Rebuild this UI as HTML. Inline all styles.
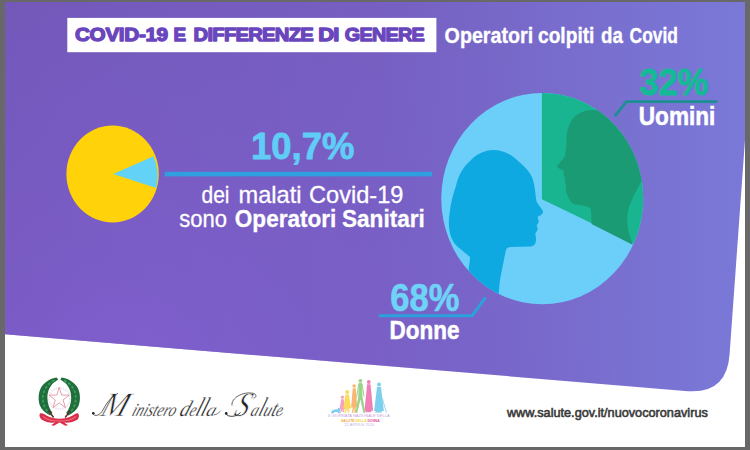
<!DOCTYPE html>
<html><head><meta charset="utf-8">
<style>
html,body{margin:0;padding:0;background:#686868;}
body{width:750px;height:450px;overflow:hidden;font-family:"Liberation Sans",sans-serif;}
svg{display:block;position:absolute;left:0;top:0;}
text{font-family:"Liberation Sans",sans-serif;}
.ser{font-family:"Liberation Serif",serif;font-style:italic;}
</style></head><body>
<svg width="750" height="450" viewBox="0 0 750 450">
<defs>
<linearGradient id="bg" x1="0" y1="0" x2="1" y2="0">
<stop offset="0" stop-color="#7256b5"/>
<stop offset="0.5" stop-color="#765fc0"/>
<stop offset="1" stop-color="#7a79d8"/>
</linearGradient>
<radialGradient id="bg2" gradientUnits="userSpaceOnUse" cx="120" cy="400" r="520">
<stop offset="0" stop-color="#8461d6" stop-opacity="0.75"/>
<stop offset="0.45" stop-color="#8060d2" stop-opacity="0.4"/>
<stop offset="1" stop-color="#7a60d0" stop-opacity="0"/>
</radialGradient>
<clipPath id="bigc"><ellipse cx="542.25" cy="198.65" rx="101" ry="105.65"/></clipPath>
</defs>
<rect x="0" y="0" width="750" height="450" fill="#686868"/>
<rect x="5" y="2" width="740" height="445" fill="#ffffff"/>
<path d="M5,2 L745,2 L745,140 L729.6,354 Q727.0,393.8 688,391.2 L5,334.2 Z" fill="url(#bg)"/>
<path d="M5,2 L745,2 L745,140 L729.6,354 Q727.0,393.8 688,391.2 L5,334.2 Z" fill="url(#bg2)"/>
<rect x="67.3" y="17.9" width="369.1" height="34.3" fill="#ffffff"/>
<text x="75.0" y="41.2" font-size="18.7" font-weight="bold" fill="#6a46bd" textLength="92.8" lengthAdjust="spacingAndGlyphs" stroke="#6a46bd" stroke-width="1.3" stroke-linejoin="round" letter-spacing="-0.3">COVID-19</text>
<text x="173.6" y="41.2" font-size="18.7" font-weight="bold" fill="#6a46bd" textLength="11.9" lengthAdjust="spacingAndGlyphs" stroke="#6a46bd" stroke-width="1.3" stroke-linejoin="round" letter-spacing="-0.7">E</text>
<text x="193.6" y="41.2" font-size="18.7" font-weight="bold" fill="#6a46bd" textLength="119.4" lengthAdjust="spacingAndGlyphs" stroke="#6a46bd" stroke-width="1.3" stroke-linejoin="round" letter-spacing="-0.7">DIFFERENZE</text>
<text x="318.2" y="41.2" font-size="18.7" font-weight="bold" fill="#6a46bd" textLength="20.4" lengthAdjust="spacingAndGlyphs" stroke="#6a46bd" stroke-width="1.3" stroke-linejoin="round" letter-spacing="-0.7">DI</text>
<text x="344.8" y="41.2" font-size="18.7" font-weight="bold" fill="#6a46bd" textLength="79.2" lengthAdjust="spacingAndGlyphs" stroke="#6a46bd" stroke-width="1.3" stroke-linejoin="round" letter-spacing="-0.7">GENERE</text>
<text x="444.6" y="43.1" font-size="22.2" font-weight="bold" fill="#ffffff" textLength="88.6" lengthAdjust="spacingAndGlyphs" stroke="#ffffff" stroke-width="0.35">Operatori</text>
<text x="538.0" y="43.1" font-size="22.2" font-weight="bold" fill="#ffffff" textLength="56.4" lengthAdjust="spacingAndGlyphs" stroke="#ffffff" stroke-width="0.35">colpiti</text>
<text x="601.0" y="43.1" font-size="22.2" font-weight="bold" fill="#ffffff" textLength="21.8" lengthAdjust="spacingAndGlyphs" stroke="#ffffff" stroke-width="0.35">da</text>
<text x="629.6" y="43.1" font-size="22.2" font-weight="bold" fill="#ffffff" textLength="48.4" lengthAdjust="spacingAndGlyphs" stroke="#ffffff" stroke-width="0.35">Covid</text>
<ellipse cx="112.6" cy="174" rx="46.2" ry="48.5" fill="#ffd20a"/>
<path d="M113.2,174 L153.6,156.2 A46.2,48.5 0 0 1 156.2,188 Z" fill="#62d2f6"/>
<rect x="164.7" y="171.8" width="267.5" height="4.6" fill="#2f9fe0"/>
<text x="251.0" y="159.2" font-size="36.5" font-weight="bold" fill="#5fcdf6" textLength="103.4" lengthAdjust="spacingAndGlyphs" stroke="#5fcdf6" stroke-width="0.8" stroke-linejoin="round">10,7%</text>
<text x="201.5" y="203.0" font-size="24.0" font-weight="normal" fill="#ffffff" textLength="28.0" lengthAdjust="spacingAndGlyphs" stroke="#ffffff" stroke-width="0.3">dei</text>
<text x="238.5" y="203.0" font-size="24.0" font-weight="normal" fill="#ffffff" textLength="63.0" lengthAdjust="spacingAndGlyphs" stroke="#ffffff" stroke-width="0.3">malati</text>
<text x="309.0" y="203.0" font-size="24.0" font-weight="normal" fill="#ffffff" textLength="94.4" lengthAdjust="spacingAndGlyphs" stroke="#ffffff" stroke-width="0.3">Covid-19</text>
<text x="179.2" y="227.3" font-size="24.2" font-weight="normal" fill="#ffffff" textLength="47.8" lengthAdjust="spacingAndGlyphs" stroke="#ffffff" stroke-width="0.3">sono</text>
<text x="234.8" y="227.3" font-size="23.6" font-weight="bold" fill="#ffffff" textLength="101.6" lengthAdjust="spacingAndGlyphs" stroke="#ffffff" stroke-width="0.3">Operatori</text>
<text x="342.0" y="227.3" font-size="23.6" font-weight="bold" fill="#ffffff" textLength="82.8" lengthAdjust="spacingAndGlyphs" stroke="#ffffff" stroke-width="0.3">Sanitari</text>
<ellipse cx="542.25" cy="198.65" rx="101" ry="105.65" fill="#6ccff9"/>
<g clip-path="url(#bigc)">
<path d="M541.9,80 L660,80 L660,256.1 L541.9,199.2 Z" fill="#19b590"/>
<path d="M590,110 C582,111 575,115 572,120 C568,126 566,133 566.5,140 C566.5,147 565.5,152 565.2,156 L557.2,166 C557,168 560,169 564,170.5 C563,173 564,176 565.2,178 C564.5,181 565.5,184 566,186 C565.5,190 566.5,194 568,196.5 C569.8,201 572,203.5 575.5,204.5 C581,205.5 587,205.5 590.5,208 C591.2,212 591.4,218 591.6,224 L633,245 C629,236 626.5,226 627.5,215 C628.5,205 634,195 641,182 L650,170 L645,140 L628,125 C620,115 605,109 590,110 Z" fill="#1a9b73"/>
<path d="M493.3,150 C502,150 510,153.5 516.4,159.6 C525,167 531,173 533,180 C535,187 535.5,194 536,198.7 L536.7,202 L543,211 C543.3,213.5 541,215.5 537.8,216.4 C537.5,218 538,219.5 538.8,221 C538.5,223 537.5,224.5 536.7,225.3 C537,226.5 537.5,228 537.8,229 C537,231 535.8,232.5 535.3,234 C535.8,236.5 536.2,239 536,241 C535.5,244.5 533.5,246.3 530.7,246.6 L511,247 C507.5,247.2 506.2,248.6 505.6,251.5 C503.6,262 500.8,275 499.6,283 L497.6,308 L478,308 C474,292 470,280 468.2,271.5 C469,266 470,261 470,257 C467,254.5 464,252 461,249.5 C456,246 452,241 450.5,235 C448.5,228 448.5,221 449.5,214 C450.5,204 453,194 456,186 C458,176 463,167 470,161 C476.5,154 484.5,150 493.3,150 Z" fill="#0fa9e2"/>
</g>
<text x="639.6" y="95.2" font-size="36" font-weight="bold" fill="#14b995" textLength="68.8" lengthAdjust="spacingAndGlyphs" stroke="#14b995" stroke-width="0.8" stroke-linejoin="round">32%</text>
<path d="M614.8,116.2 L626.4,101.6 L717.4,101.6" fill="none" stroke="#1c8f93" stroke-width="2.8"/>
<text x="638.8" y="124.8" font-size="25.0" font-weight="bold" fill="#ffffff" textLength="76.6" lengthAdjust="spacingAndGlyphs" stroke="#ffffff" stroke-width="0.5">Uomini</text>
<text x="390.2" y="310.6" font-size="39.5" font-weight="bold" fill="#6fd3f8" textLength="69.2" lengthAdjust="spacingAndGlyphs" stroke="#6fd3f8" stroke-width="0.6" stroke-linejoin="round">68%</text>
<path d="M378.8,315.7 L472.2,315.7 L485.6,297.4" fill="none" stroke="#2aa0dc" stroke-width="3.1"/>
<text x="389.6" y="338.7" font-size="25.0" font-weight="bold" fill="#ffffff" textLength="69.9" lengthAdjust="spacingAndGlyphs" stroke="#ffffff" stroke-width="0.5">Donne</text>
<text x="506.9" y="416.6" font-size="12.9" font-weight="normal" fill="#3a3a3a" textLength="200.9" lengthAdjust="spacingAndGlyphs" stroke="#3a3a3a" stroke-width="0.6">www.salute.gov.it/nuovocoronavirus</text>
<g>
<circle cx="59.5" cy="398.6" r="10.6" fill="#ffffff" stroke="#ece8f0" stroke-width="2.2" stroke-dasharray="1.6 0.8"/>
<g transform="translate(59.2,398.6) scale(1,1.06)"><polygon points="0.00,-10.60 2.41,-3.32 10.08,-3.28 3.90,1.27 6.23,8.58 0.00,4.10 -6.23,8.58 -3.90,1.27 -10.08,-3.28 -2.41,-3.32" fill="#ffffff" stroke="#e08a98" stroke-width="0.8"/></g>
<path d="M56.6,377.5 C50,378.5 43.5,382.5 40.6,388.5 C38.2,393.5 38.0,400.5 40.0,405.8 C41.8,410 45.5,413.2 50.2,415.4 L52.4,412.8 C49.4,409 47.4,403.5 47.4,398 C47.4,391.5 49.8,386 54.0,382.6 C55.6,381.4 57.2,380.4 58.2,379.6 Z" fill="#1f6e3c"/>
<path d="M61.6,377.5 C68.5,378.5 75,382.5 78.0,388.5 C80.4,393.5 80.6,400.5 78.6,405.8 C76.8,410 73,413.2 68.4,415.4 L66.2,412.8 C69.2,409 71.2,403.5 71.2,398 C71.2,391.5 68.8,386 64.6,382.6 C63,381.4 61.4,380.4 60.4,379.6 Z" fill="#1f6e3c"/>
<path d="M54.5,380.3 C47,383.6 42.8,391 42.8,398 C42.8,404 45,409.4 49.5,413" fill="none" stroke="#3d9a5c" stroke-width="1.8" stroke-dasharray="3 1.8"/>
<path d="M64.0,380.3 C71.6,383.6 75.8,391 75.8,398 C75.8,404 73.6,409.4 69,413" fill="none" stroke="#3d9a5c" stroke-width="1.8" stroke-dasharray="3 1.8"/>
<path d="M48.6,410.6 L53.6,417.5 M70.2,410.6 L65.2,417.5" stroke="#5a2f28" stroke-width="1.5" fill="none"/>
<path d="M40.0,413.4 C42.5,412.8 44.5,414.2 46.5,415.6 C50.5,418 55,418.8 59.6,418.8 C64.2,418.8 68.6,418 72.6,415.6 C74.6,414.2 76.4,412.8 78.2,413.4 C79.6,415 79.0,418.2 77.2,419.8 C73.5,422.4 68.5,423 64.2,422.6 L68,425.2 L65.4,425.8 L59.6,422.6 L53.8,425.8 L51.2,425.2 L55,422.6 C50.6,423 45.6,422.4 42.0,419.8 C40.0,418.2 38.8,415 40.0,413.4 Z" fill="#d8304a"/>
<path d="M43,416.5 C48,420.5 54,421.2 59.6,421 C65,421.2 71,420.5 76,416.5" fill="none" stroke="#ef6a7e" stroke-width="1.1"/>
</g>
<g fill="#222222">
<g transform="translate(99.0,416) skewX(-20)"><text class="ser" x="0" y="0" font-size="34.5" textLength="26" lengthAdjust="spacingAndGlyphs" stroke="#ffffff" stroke-width="0.7">M</text></g>
<g transform="translate(131.0,416) skewX(-20)"><text class="ser" x="0" y="0" font-size="18.6" textLength="43.5" lengthAdjust="spacingAndGlyphs" stroke="#ffffff" stroke-width="0.25">inistero</text></g>
<g transform="translate(178.6,416) skewX(-20)"><text class="ser" x="0" y="0" font-size="22.5" textLength="9.6" lengthAdjust="spacingAndGlyphs" stroke="#ffffff" stroke-width="0.25">d</text></g>
<g transform="translate(188.2,416) skewX(-20)"><text class="ser" x="0" y="0" font-size="18.6" textLength="6.2" lengthAdjust="spacingAndGlyphs" stroke="#ffffff" stroke-width="0.25">e</text></g>
<g transform="translate(194.6,416) skewX(-20)"><text class="ser" x="0" y="0" font-size="27" textLength="10.2" lengthAdjust="spacingAndGlyphs" stroke="#ffffff" stroke-width="0.25">ll</text></g>
<g transform="translate(205.0,416) skewX(-20)"><text class="ser" x="0" y="0" font-size="18.6" textLength="9.4" lengthAdjust="spacingAndGlyphs" stroke="#ffffff" stroke-width="0.25">a</text></g>
<g transform="translate(233.0,416) skewX(-20)"><text class="ser" x="0" y="0" font-size="34.5" textLength="13.5" lengthAdjust="spacingAndGlyphs" stroke="#ffffff" stroke-width="0.7">S</text></g>
<g transform="translate(249.6,416) skewX(-20)"><text class="ser" x="0" y="0" font-size="18.6" textLength="7.6" lengthAdjust="spacingAndGlyphs" stroke="#ffffff" stroke-width="0.25">a</text></g>
<g transform="translate(257.4,416) skewX(-20)"><text class="ser" x="0" y="0" font-size="27" textLength="4.6" lengthAdjust="spacingAndGlyphs" stroke="#ffffff" stroke-width="0.25">l</text></g>
<g transform="translate(262.2,416) skewX(-20)"><text class="ser" x="0" y="0" font-size="18.6" textLength="7.8" lengthAdjust="spacingAndGlyphs" stroke="#ffffff" stroke-width="0.25">u</text></g>
<g transform="translate(270.2,416) skewX(-20)"><text class="ser" x="0" y="0" font-size="22.5" textLength="4.6" lengthAdjust="spacingAndGlyphs" stroke="#ffffff" stroke-width="0.25">t</text></g>
<g transform="translate(274.8,416) skewX(-20)"><text class="ser" x="0" y="0" font-size="18.6" textLength="6.0" lengthAdjust="spacingAndGlyphs" stroke="#ffffff" stroke-width="0.25">e</text></g>
<path d="M92.8,413.4 C94.5,417.0 100,416.0 103.5,409 C107,402 112,396.5 118,393.4" fill="none" stroke="#222" stroke-width="0.7"/><circle cx="93.3" cy="413.2" r="1.3"/>
<path d="M232,405.5 C231,398 243,391.0 253.6,393.4 C257,394.4 256.5,397.8 253.5,398" fill="none" stroke="#222" stroke-width="0.7"/>
<path d="M225.8,413.6 C228,417.4 236,417.4 240.5,412.5" fill="none" stroke="#222" stroke-width="0.9"/><circle cx="226.2" cy="413.4" r="1.3"/>
<path d="M214,414.8 C216.5,414.6 218.5,413.2 220.5,411" fill="none" stroke="#222" stroke-width="0.6"/>
<path d="M280,414.8 C281.5,414.5 282.2,413.6 282.6,412.6" fill="none" stroke="#222" stroke-width="0.6"/>
</g>
<g>
<path d="M331.0,412.6 C332,409.8 335,409.0 337.4,409.4 C337.4,407.6 339.6,407.4 340.3,408.8 C340.9,410 340.2,411 339.5,411.3 L340.8,413.3 L338.4,413.3 L337.4,411.9 L334.8,412 L333.6,413.3 L331.0,413.3 Z" fill="#7fd0ee"/>
<circle cx="342.40" cy="397.20" r="1.60" fill="#f5a3c4"/><path d="M341.10,399.20 L343.70,399.20 L345.30,409.34 L343.70,409.34 L344.14,412.2 L342.69,412.2 L342.40,409.34 L341.38,412.2 L340.08,412.2 L341.09,409.34 L339.50,409.34 Z" fill="#f5a3c4"/>
<circle cx="347.20" cy="392.00" r="2.00" fill="#f9dc5c"/><path d="M345.50,394.40 L348.90,394.40 L351.10,408.60 L348.95,408.60 L349.54,412.6 L347.59,412.6 L347.20,408.60 L345.83,412.6 L344.08,412.6 L345.44,408.60 L343.30,408.60 Z" fill="#f9dc5c"/>
<circle cx="354.20" cy="386.00" r="1.80" fill="#f8b774"/><path d="M352.70,388.20 L355.70,388.20 L357.30,407.54 L355.59,407.54 L356.06,413.0 L354.51,413.0 L354.20,407.54 L353.12,413.0 L351.72,413.0 L352.81,407.54 L351.10,407.54 Z" fill="#f8b774"/>
<circle cx="360.40" cy="380.80" r="1.90" fill="#9ad48a"/><path d="M358.80,383.10 L362.00,383.10 L362.48,396.46 L365.30,412.8 L363.30,412.8 L360.40,399.46 L357.30,412.8 L355.50,412.8 L358.32,396.46 Z" fill="#9ad48a"/><path d="M358.80,383.60 L356.60,397.46 M362.00,383.60 L364.00,396.46" stroke="#9ad48a" stroke-width="1" fill="none"/>
<circle cx="368.80" cy="382.00" r="1.90" fill="#f07fb5"/><path d="M367.10,384.30 L370.50,384.30 L373.10,410.70 L370.95,410.70 L371.38,412.2 L364.93,412.2 L366.22,410.70 L364.50,410.70 Z" fill="#f07fb5"/>
<circle cx="379.00" cy="384.60" r="2.00" fill="#7dcfee"/><path d="M377.00,387.00 L381.00,387.00 L383.90,410.90 L381.45,410.90 L381.94,412.4 L374.59,412.4 L376.06,410.90 L374.10,410.90 Z" fill="#7dcfee"/>
<line x1="382.4" y1="398.5" x2="386.4" y2="412.6" stroke="#7dcfee" stroke-width="0.8"/>
<text x="327.7" y="417.4" font-size="3.6" fill="#c9a0d8" textLength="62.0" lengthAdjust="spacingAndGlyphs">X GIORNATA NAZIONALE DELLA</text>
<text x="341.0" y="421.8" font-size="4.2" font-weight="bold" fill="#f5a742" textLength="38.7" lengthAdjust="spacingAndGlyphs">SALUTE <tspan fill="#f2d43b">DELLA</tspan> <tspan fill="#e2529e">DONNA</tspan></text>
<text x="344.3" y="426.2" font-size="3.6" fill="#c9b3e2" textLength="30.0" lengthAdjust="spacingAndGlyphs">22 APRILE 2020</text>
</g>
</svg>
</body></html>
